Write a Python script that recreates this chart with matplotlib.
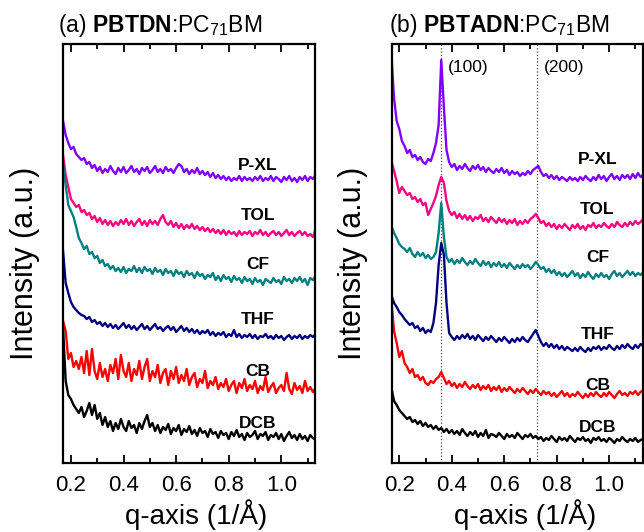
import numpy as np
import matplotlib
matplotlib.use('Agg')
import matplotlib.pyplot as plt
from matplotlib.ticker import AutoMinorLocator

plt.rcParams['font.family'] = ['Liberation Sans', 'DejaVu Sans']
plt.rcParams['mathtext.fontset'] = 'custom'
plt.rcParams['mathtext.rm'] = 'Liberation Sans'
plt.rcParams['mathtext.bf'] = 'Liberation Sans:bold'

## q grid of the traces: starts at 0.17, one point per 0.01 1/A
q_start = 0.17
q_step = 0.01

solvents = ['P-XL', 'TOL', 'CF', 'THF', 'CB', 'DCB']
colors = ['#8000ff', '#ff0080', '#008080', '#000080', '#ff0000', '#000000']

## (a) PBTDN:PC71BM, offset intensities (a.u.)
a_pxl = [322, 308, 300, 294, 296, 289, 286, 283, 285, 279,
         281, 275, 278, 272, 276, 270, 274, 271, 277, 272,
         269, 275, 271, 276, 270, 273, 277, 271, 274, 269,
         275, 272, 276, 270, 273, 277, 271, 274, 270, 276,
         272, 274, 270, 275, 279, 277, 271, 274, 269, 273,
         270, 275, 269, 272, 268, 271, 266, 270, 265, 268,
         264, 267, 263, 266, 262, 265, 263, 267, 262, 266,
         263, 265, 262, 266, 263, 267, 262, 265, 263, 267,
         262, 266, 264, 261, 266, 263, 267, 262, 265, 261,
         266, 263, 267, 262, 266, 264, 268]
a_tol = [288, 268, 256, 244, 240, 236, 238, 231, 233, 228,
         230, 224, 227, 221, 225, 219, 223, 218, 222, 217,
         221, 218, 223, 219, 224, 218, 222, 217, 221, 224,
         218, 222, 217, 223, 219, 222, 218, 224, 228, 221,
         218, 222, 216, 220, 215, 219, 214, 218, 215, 219,
         214, 217, 213, 216, 212, 215, 211, 214, 210, 213,
         209, 213, 208, 212, 209, 211, 207, 212, 208, 211,
         209, 212, 207, 211, 209, 213, 208, 211, 207, 210,
         212, 208, 211, 207, 210, 213, 208, 211, 207, 210,
         212, 208, 211, 207, 209, 206, 213]
a_cf = [278, 258, 238, 232, 226, 216, 205, 200, 194, 197,
        189, 191, 185, 187, 180, 183, 177, 179, 174, 177,
        172, 175, 171, 176, 170, 174, 172, 177, 171, 175,
        170, 176, 172, 174, 169, 175, 171, 173, 168, 174,
        170, 172, 167, 173, 169, 171, 166, 172, 168, 170,
        165, 171, 167, 169, 164, 168, 166, 170, 163, 167,
        162, 168, 164, 166, 161, 167, 163, 165, 160, 166,
        162, 164, 159, 165, 161, 163, 158, 164, 162, 160,
        165, 161, 163, 159, 166, 162, 164, 160, 165, 162,
        166, 161, 164, 158, 165, 163, 167]
a_thf = [192, 160, 150, 141, 136, 133, 130, 128, 127, 124,
         126, 121, 123, 119, 121, 117, 120, 116, 119, 115,
         118, 114, 117, 120, 115, 118, 114, 117, 113, 116,
         119, 114, 117, 113, 116, 119, 114, 116, 112, 115,
         117, 113, 116, 111, 114, 117, 112, 115, 111, 114,
         110, 113, 109, 112, 110, 113, 108, 111, 107, 110,
         108, 111, 106, 109, 107, 113, 106, 109, 105, 108,
         106, 109, 105, 108, 104, 107, 106, 109, 105, 107,
         104, 108, 105, 107, 103, 106, 108, 104, 107, 105,
         108, 104, 107, 105, 108, 106, 109]
a_cb = [122, 112, 84, 90, 76, 82, 74, 86, 70, 92,
        68, 94, 72, 64, 80, 66, 74, 62, 78, 70,
        84, 64, 88, 72, 66, 80, 62, 74, 68, 82,
        64, 76, 84, 62, 72, 66, 78, 60, 70, 74,
        58, 72, 64, 76, 60, 68, 62, 74, 58, 66,
        70, 56, 64, 60, 72, 55, 62, 58, 66, 54,
        60, 56, 64, 52, 58, 62, 50, 60, 55, 64,
        52, 58, 54, 62, 50, 57, 53, 66, 51, 56,
        60, 50, 55, 58, 52, 70, 54, 49, 60, 53,
        57, 50, 62, 52, 56, 51, 55]
a_dcb = [115, 62, 48, 44, 38, 34, 30, 36, 26, 32,
         40, 28, 38, 24, 30, 18, 26, 16, 22, 12,
         20, 14, 24, 16, 12, 22, 15, 18, 10, 20,
         14, 22, 28, 16, 20, 12, 18, 10, 16, 13,
         19, 9, 15, 12, 18, 8, 14, 11, 17, 9,
         13, 7, 15, 10, 12, 6, 14, 9, 11, 5,
         12, 8, 10, 4, 11, 7, 13, 6, 9, 3,
         10, 6, 8, 12, 4, 9, 7, 11, 3, 8,
         6, 10, 4, 9, 2, 7, 11, 5, 8, 3,
         9, 4, 7, 2, 8, 5, 3]

## (b) PBTADN:PC71BM
b_pxl = [388, 345, 322, 314, 302, 297, 290, 293, 286, 288,
         283, 286, 281, 279, 284, 282, 290, 300, 318, 383,
         336, 293, 281, 276, 279, 273, 277, 274, 279, 275,
         272, 277, 274, 278, 273, 276, 271, 275, 272, 270,
         274, 271, 275, 270, 273, 268, 272, 269, 271, 267,
         270, 268, 272, 269, 273, 275, 277, 271, 267, 269,
         265, 268, 264, 267, 263, 266, 264, 262, 266, 263,
         265, 262, 266, 263, 267, 264, 262, 266, 263, 268,
         264, 267, 262, 266, 269, 264, 267, 263, 268, 265,
         268, 264, 269, 265, 270, 266, 268]
b_tol = [282, 272, 262, 250, 256, 252, 248, 250, 244, 246,
         241, 244, 238, 240, 228, 234, 240, 247, 258, 266,
         260, 242, 232, 228, 231, 225, 229, 224, 228, 223,
         227, 222, 226, 224, 228, 222, 225, 221, 226, 223,
         220, 225, 221, 224, 219, 223, 220, 224, 218, 222,
         219, 223, 220, 224, 226, 229, 225, 220, 222, 217,
         220, 216, 219, 214, 218, 215, 219, 216, 213, 218,
         215, 219, 214, 217, 213, 218, 216, 220, 215, 218,
         216, 220, 217, 215, 219, 216, 221, 218, 216, 220,
         217, 221, 218, 222, 219, 221, 224]
b_cf = [217, 210, 205, 199, 196, 194, 191, 195, 189, 186,
        191, 187, 190, 185, 188, 184, 186, 191, 210, 240,
        206, 186, 181, 184, 179, 183, 180, 185, 181, 178,
        182, 179, 184, 180, 177, 182, 178, 181, 176, 180,
        177, 181, 176, 179, 175, 180, 177, 174, 178, 175,
        179, 176, 178, 174, 177, 181, 178, 174, 176, 171,
        174, 170, 173, 168, 171, 167, 170, 166, 169, 172,
        167, 170, 165, 169, 166, 171, 167, 164, 169, 166,
        170, 166, 168, 164, 169, 172, 167, 170, 166, 169,
        172, 168, 171, 167, 170, 168, 171]
b_thf = [148, 140, 136, 131, 128, 124, 121, 118, 120, 115,
         117, 112, 115, 110, 113, 111, 120, 140, 178, 200,
         188, 140, 110, 106, 103, 107, 104, 108, 105, 109,
         104, 107, 103, 108, 105, 102, 106, 103, 107, 104,
         101, 105, 102, 106, 103, 100, 104, 101, 105, 102,
         106, 103, 101, 105, 109, 113, 107, 101, 97, 100,
         96, 99, 95, 98, 94, 97, 93, 96, 94, 92,
         95, 92, 96, 93, 91, 95, 92, 96, 94, 97,
         93, 96, 94, 98, 95, 93, 97, 94, 98, 95,
         99, 96, 94, 98, 95, 99, 97]
b_cb = [142, 112, 100, 86, 92, 80, 76, 70, 74, 66,
        68, 63, 66, 60, 58, 62, 60, 64, 66, 71,
        65, 59, 62, 57, 60, 55, 59, 56, 61, 57,
        54, 58, 55, 59, 53, 57, 54, 58, 52, 56,
        53, 57, 51, 55, 52, 56, 53, 50, 54, 51,
        55, 52, 49, 53, 50, 54, 51, 48, 52, 49,
        51, 47, 50, 46, 49, 52, 47, 50, 46, 49,
        47, 51, 48, 45, 49, 46, 50, 47, 51, 48,
        46, 50, 47, 51, 48, 45, 49, 52, 48, 50,
        47, 51, 49, 52, 48, 51, 53]
b_dcb = [55, 42, 38, 33, 30, 27, 24, 26, 21, 23,
         19, 22, 17, 20, 16, 18, 14, 17, 13, 15,
         11, 14, 10, 13, 9, 12, 8, 14, 10, 7,
         11, 8, 12, 6, 10, 7, 13, 5, 9, 8,
         6, 10, 7, 4, 9, 6, 8, 5, 10, 7,
         4, 8, 6, 9, 5, 7, 4, 6, 2, 5,
         3, 7, 4, 1, 6, 3, 5, 2, 7, 4,
         1, 5, 3, 6, 2, 4, 0, 5, 3, 6,
         2, 4, 1, 5, 3, 0, 4, 2, 6, 3,
         1, 4, 2, 5, 1, 3, 4]

## reflection positions marked in (b)
peak_q = [0.36, 0.725]
peak_names = ['(100)', '(200)']

traces_a = [a_pxl, a_tol, a_cf, a_thf, a_cb, a_dcb]
traces_b = [b_pxl, b_tol, b_cf, b_thf, b_cb, b_dcb]

## where the solvent names sit (q, intensity)
label_q_a = 0.91
label_y_a = [277, 227, 178, 123, 71, 19]
label_q_b = 0.955
label_y_b = [283, 233, 185, 108, 57, 15]

fig = plt.figure(figsize=(6.44, 5.32), dpi=100)
ax_a = fig.add_axes([0.0983, 0.1297, 0.3908, 0.7876])
ax_b = fig.add_axes([0.6082, 0.1297, 0.3898, 0.7876])


def style_axis(ax):
    ax.set_xlim(0.171, 1.128)
    ax.set_ylim(-20, 399)
    ax.set_xticks([0.2, 0.4, 0.6, 0.8, 1.0])
    ax.xaxis.set_minor_locator(AutoMinorLocator(2))
    ax.tick_params(axis='x', which='both', direction='in', top=True,
                   labelsize=16, pad=9, width=1.3)
    ax.tick_params(axis='x', which='major', length=6)
    ax.tick_params(axis='x', which='minor', length=3.5)
    ax.tick_params(axis='y', left=False, labelleft=False)
    for s in ax.spines.values():
        s.set_linewidth(1.6)


for ax, traces, lq, ly in [(ax_a, traces_a, label_q_a, label_y_a),
                           (ax_b, traces_b, label_q_b, label_y_b)]:
    for y, c, name, yy in zip(traces, colors, solvents, ly):
        q = q_start + q_step * np.arange(len(y))
        ax.plot(q, y, color=c, lw=1.7)
        ax.text(lq, yy, name, fontsize=12.5, fontweight='bold',
                ha='center', va='center')
    style_axis(ax)

for pq, pn in zip(peak_q, peak_names):
    ax_b.axvline(pq, color='#444444', ls=':', lw=0.9, zorder=0)
    ax_b.text(pq + 0.027, 375, pn, fontsize=12.5, ha='left', va='center')

fig.text(58 / 644, 1 - 32 / 532, r'(a) $\mathbf{PBTDN}$:PC$_{71}$BM',
         fontsize=16.5, ha='left', va='baseline')
fig.text(389 / 644, 1 - 32 / 532, r'(b) $\mathbf{PBTADN}$:PC$_{71}$BM',
         fontsize=16.5, ha='left', va='baseline')

for xc in [25, 353]:
    fig.text(xc / 644, 1 - 263 / 532, 'Intensity (a.u.)', fontsize=22,
             rotation=90, ha='center', va='center')
for xc in [196, 525]:
    fig.text(xc / 644, 1 - 515 / 532, 'q-axis (1/Å)', fontsize=20,
             ha='center', va='center')

fig.savefig('out.png', dpi=100)
